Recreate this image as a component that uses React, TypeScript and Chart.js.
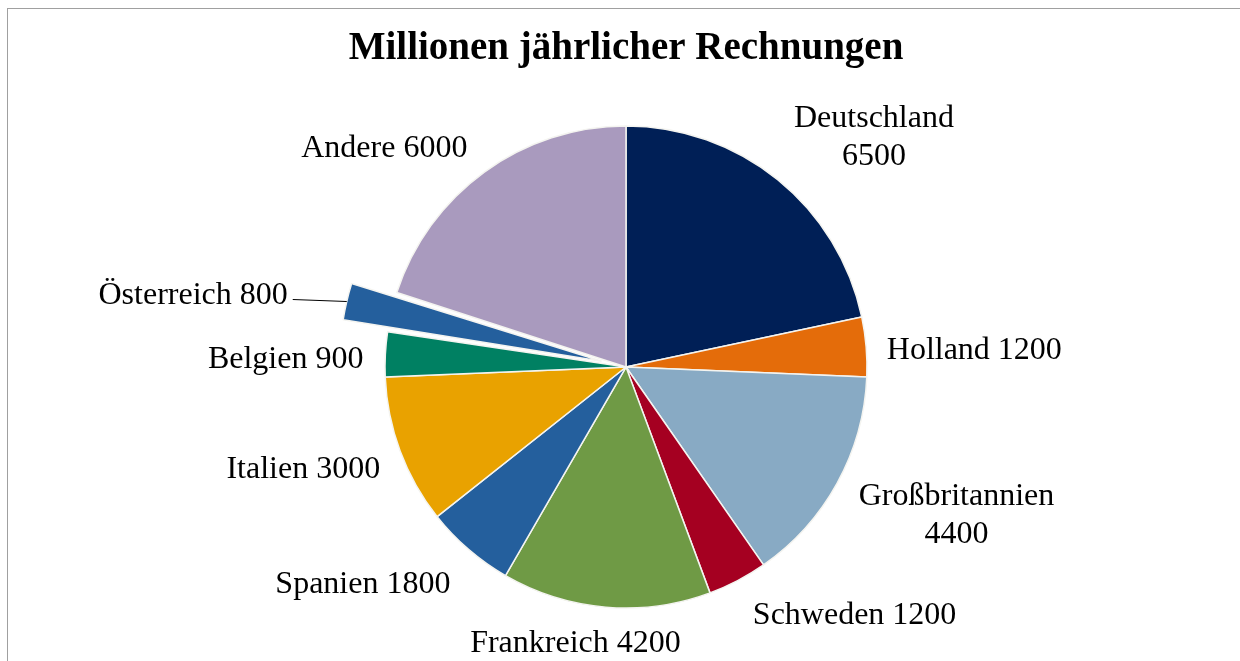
import { useEffect, useRef } from "react";
import { Chart, registerables } from "chart.js";

Chart.register(...registerables);

// ---- data ----
const categories = [
  "Deutschland",
  "Holland",
  "Großbritannien",
  "Schweden",
  "Frankreich",
  "Spanien",
  "Italien",
  "Belgien",
  "Österreich",
  "Andere",
];
const values = [6500, 1200, 4400, 1200, 4200, 1800, 3000, 900, 800, 6000];
const titleText = "Millionen jährlicher Rechnungen";

// ---- styles ----
const colors = [
  "#001F56",
  "#E46C0A",
  "#88AAC4",
  "#A50021",
  "#6F9A45",
  "#245F9D",
  "#E9A200",
  "#008062",
  "#245F9D",
  "#A99ABE",
];
const explode = [0, 0, 0, 0, 0, 0, 0, 0, 100, 0];
const wrapLabel = [true, false, true, false, false, false, false, false, false, false];
const leaderLabel = [false, false, false, false, false, false, false, false, true, false];
const labelNudge: [number, number][] = [
  [34, -1],
  [2, 4],
  [17, 2],
  [61, -2],
  [-20, -4],
  [-36, 3],
  [-7, 2],
  [-3, 4],
  [0, 0],
  [-40, 4],
];
const FONT = '"Liberation Serif", "Times New Roman", serif';
const LABEL_SIZE = 32;
const LINE_H = 38;
const GAP = 19;
const TEXT_DY = 3;

const labelPlugin = {
  id: "pieLabels",
  afterDraw(chart: any) {
    const ctx = chart.ctx as CanvasRenderingContext2D;
    const meta = chart.getDatasetMeta(0);
    const area = chart.chartArea;
    ctx.save();
    // title
    ctx.fillStyle = "#000";
    ctx.textAlign = "center";
    ctx.textBaseline = "middle";
    ctx.font = `bold 39px ${FONT}`;
    ctx.fillText(titleText, (area.left + area.right) / 2, 49);

    ctx.font = `${LABEL_SIZE}px ${FONT}`;
    meta.data.forEach((arc: any, i: number) => {
      const p = arc.getProps(["x", "y", "startAngle", "endAngle", "outerRadius"], true);
      const a = (p.startAngle + p.endAngle) / 2;
      const dx = Math.cos(a);
      const dy = Math.sin(a);
      const off = (explode[i] || 0) / 4;
      const fix = 1 - Math.sin(Math.min(Math.PI, p.endAngle - p.startAngle));
      const t = off + off * fix;
      const cx = p.x + dx * t;
      const cy = p.y + dy * t;
      const lines = wrapLabel[i]
        ? [categories[i], String(values[i])]
        : [`${categories[i]} ${values[i]}`];
      if (leaderLabel[i]) {
        const sx = cx + dx * p.outerRadius;
        const sy = cy + dy * p.outerRadius;
        const ex = sx - 54;
        const ey = sy - 2;
        ctx.strokeStyle = "#000";
        ctx.lineWidth = 1;
        ctx.beginPath();
        ctx.moveTo(sx, sy);
        ctx.lineTo(ex, ey);
        ctx.stroke();
        ctx.textAlign = "right";
        ctx.fillText(lines[0], ex - 5, ey - 7 + TEXT_DY);
        ctx.textAlign = "center";
        return;
      }
      const w = Math.max(...lines.map((l) => ctx.measureText(l).width));
      const h = lines.length * LINE_H;
      const px = cx + dx * (p.outerRadius + GAP);
      const py = cy + dy * (p.outerRadius + GAP);
      const bx = px + (dx * w) / 2 + labelNudge[i][0];
      const by = py + (dy * h) / 2 + labelNudge[i][1];
      lines.forEach((l, k) => {
        ctx.fillText(l, bx, by - h / 2 + LINE_H * (k + 0.5) + TEXT_DY);
      });
    });
    ctx.restore();
  },
};

export default function App() {
  const ref = useRef<HTMLCanvasElement | null>(null);
  useEffect(() => {
    if (!ref.current) return;
    const chart = new Chart(ref.current, {
      type: "pie",
      data: {
        labels: categories,
        datasets: [
          {
            data: values,
            backgroundColor: colors,
            borderColor: "#F4F4F0",
            borderWidth: 1.5,
            offset: explode,
          } as any,
        ],
      },
      options: {
        responsive: false,
        animation: false,
        radius: 241,
        layout: { padding: { left: 12, top: 73, right: 0, bottom: 0 } },
        plugins: {
          legend: { display: false },
          title: { display: false },
          tooltip: { enabled: false },
        },
      } as any,
      plugins: [labelPlugin],
    });
    return () => chart.destroy();
  }, []);
  return (
    <div
      style={{
        position: "absolute",
        left: 0,
        top: 0,
        width: 1240,
        height: 661,
        overflow: "hidden",
        background: "#fff",
      }}
    >
      <div
        style={{
          position: "absolute",
          left: 7,
          top: 8,
          width: 1400,
          height: 800,
          border: "1px solid #A0A0A0",
        }}
      />
      <canvas
        ref={ref}
        width={1240}
        height={661}
        style={{ position: "absolute", left: 0, top: 0, width: 1240, height: 661 }}
      />
    </div>
  );
}
